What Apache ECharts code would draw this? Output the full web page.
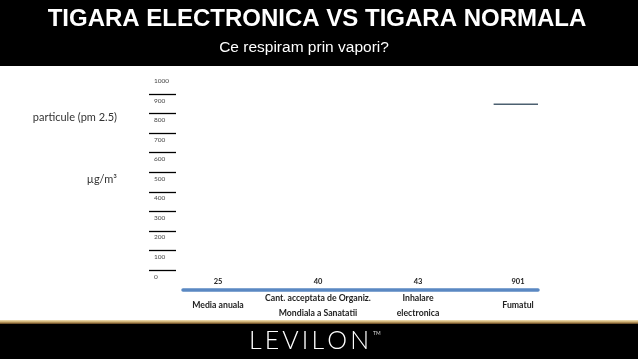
<!DOCTYPE html>
<html>
<head>
<meta charset="utf-8">
<script src="https://cdn.jsdelivr.net/npm/echarts@6/dist/echarts.min.js"></script>
<style>
html,body{margin:0;padding:0;background:#fff;}
#c{width:638px;height:359px;}
</style>
</head>
<body>
<div id="c"></div>
<script>
const titleText = 'TIGARA ELECTRONICA VS TIGARA NORMALA';
const subtitleText = 'Ce respiram prin vapori?';
const categories = ['Media anuala', 'Cant. acceptata de Organiz.\nMondiala a Sanatatii', 'Inhalare\nelectronica', 'Fumatul'];
const values = [25, 40, 43, 901];
const yMin = 0, yMax = 1000, yInterval = 100;
const sideLabel1 = 'particule (pm 2.5)';
const sideLabel2 = 'µg/m³';
const logoText = 'LEVILON';

const chart = echarts.init(document.getElementById('c'), null, {renderer: 'canvas'});
const calib = 'Lato, "Open Sans", sans-serif';

const splitColors = [];
for (let v = yMin; v <= yMax; v += yInterval) splitColors.push('#000');

const option = {
  backgroundColor: '#fff',
  animation: false,
  grid: [
    {left: 183, right: 100, top: 84, bottom: 69.5},   // plot area (blue base + segment)
    {left: 168, right: 70, top: 84, bottom: 69.5},    // labels
    {left: 149, width: 27, top: 74.5, bottom: 89}     // side scale
  ],
  xAxis: [
    {gridIndex: 0, type: 'category', data: categories,
     axisLine: {show: true, lineStyle: {color: '#5a88c2', width: 3.5}},
     axisTick: {show: false}, axisLabel: {show: false}, splitLine: {show: false}},
    {gridIndex: 1, type: 'category', data: categories,
     axisLine: {show: false}, axisTick: {show: false},
     axisLabel: {show: true, interval: 0, margin: 16, verticalAlign: 'middle',
       fontFamily: calib, fontSize: 8.7, fontWeight: 'bold', color: '#222', lineHeight: 15}},
    {gridIndex: 2, type: 'category', data: [''], show: false}
  ],
  yAxis: [
    {gridIndex: 0, type: 'value', min: yMin, max: yMax, show: false},
    {gridIndex: 1, type: 'value', min: yMin, max: yMax, show: false},
    {gridIndex: 2, type: 'value', min: yMin, max: yMax, interval: yInterval,
     axisLine: {show: false}, axisTick: {show: false},
     splitLine: {show: true, showMaxLine: false, lineStyle: {color: splitColors, width: 1.3}},
     axisLabel: {inside: true, margin: 5, align: 'left', verticalAlign: 'top', padding: [3, 0, 0, 0],
       formatter: function (v) { return String(v); },
       fontFamily: calib, fontSize: 6.5, color: '#444', showMaxLabel: true, showMinLabel: true}}
  ],
  series: [
    {type: 'custom', xAxisIndex: 0, yAxisIndex: 0,
     data: values.map((v, i) => [i, v]),
     renderItem: function (params, api) {
       const idx = api.value(0), v = api.value(1);
       const p = api.coord([idx, v]);
       const base = api.coord([idx, 0]);
       const band = api.size([1, 0])[0];
       if (base[1] - p[1] < 20) return null;
       return {type: 'line', shape: {x1: p[0], y1: p[1], x2: p[0] + band / 2, y2: p[1]},
               style: {stroke: '#4d6070', lineWidth: 1.5}};
     }},
    {type: 'bar', xAxisIndex: 1, yAxisIndex: 1, data: values, barWidth: 10,
     itemStyle: {color: 'rgba(0,0,0,0)'},
     label: {show: true, position: 'insideBottom', distance: 4, fontFamily: calib,
       fontSize: 7.5, fontWeight: 'bold', color: '#222'}}
  ],
  graphic: [
    {type: 'rect', shape: {x: 0, y: 0, width: 638, height: 66}, style: {fill: '#000'}, silent: true},
    {type: 'rect', shape: {x: 0, y: 320, width: 638, height: 4},
     style: {fill: new echarts.graphic.LinearGradient(0, 0, 0, 1, [
       {offset: 0, color: '#f3e3b8'}, {offset: 0.5, color: '#c9a86a'}, {offset: 1, color: '#5a3d1a'}])}, silent: true},
    {type: 'rect', shape: {x: 0, y: 324, width: 638, height: 35}, style: {fill: '#000'}, silent: true},
    {type: 'text', x: 317, y: 19, style: {text: titleText, fill: '#fff', font: 'bold 24px "Liberation Sans", Arial, sans-serif', textAlign: 'center', textVerticalAlign: 'middle'}},
    {type: 'text', x: 304, y: 48, style: {text: subtitleText, fill: '#fff', font: '15.5px "Liberation Sans", Arial, sans-serif', textAlign: 'center', textVerticalAlign: 'middle'}},
    {type: 'text', x: 117, y: 117, style: {text: sideLabel1, fill: '#333', font: '11px ' + calib, textAlign: 'right', textVerticalAlign: 'middle'}},
    {type: 'text', x: 117, y: 179, style: {text: sideLabel2, fill: '#333', font: '11px ' + calib, textAlign: 'right', textVerticalAlign: 'middle'}},
    {type: 'text', x: 309, y: 341, style: {text: logoText.split('').join('\u2009'), fill: '#fff', font: '300 25px ' + calib, textAlign: 'center', textVerticalAlign: 'middle'}},
    {type: 'text', x: 373, y: 333, style: {text: 'TM', fill: '#ddd', font: '5px ' + calib, textAlign: 'left', textVerticalAlign: 'middle'}}
  ]
};
chart.setOption(option);
</script>
</body>
</html>
